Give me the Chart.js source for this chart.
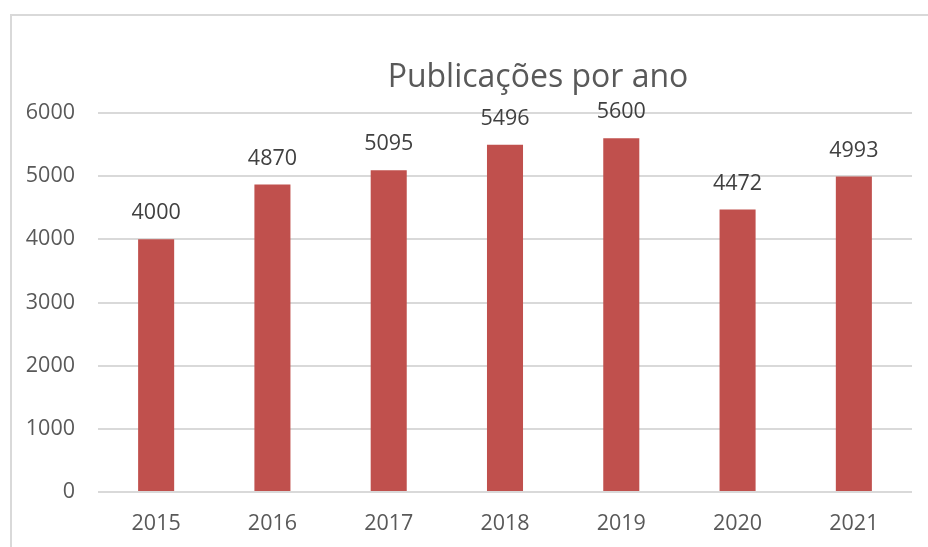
<!DOCTYPE html>
<html>
<head>
<meta charset="utf-8">
<script src="https://cdn.jsdelivr.net/npm/chart.js@4"></script>
<style>
  html, body { margin: 0; padding: 0; background: #fff; }
  #wrap { position: absolute; left: 0; top: 0; width: 928px; height: 547px; }
  #frame { position: absolute; left: 10px; top: 14px; width: 930px; height: 545px;
           border-left: 2px solid #d9d9d9; border-top: 2px solid #d9d9d9; }
</style>
</head>
<body>
<div id="frame"></div>
<div id="wrap"><canvas id="pubChart" width="928" height="547"></canvas></div>
<script>
const years = ['2015', '2016', '2017', '2018', '2019', '2020', '2021'];
const publications = [4000, 4870, 5095, 5496, 5600, 4472, 4993];
const yTicks = [0, 1000, 2000, 3000, 4000, 5000, 6000];
const chartTitle = 'Publicações por ano';

const FONT = "'Open Sans', sans-serif";

// title sits a bit right of centre in the original, so draw it here
const titleText = {
    id: 'titleText',
    afterDraw(chart) {
        const ctx = chart.ctx;
        ctx.save();
        ctx.font = '32px ' + FONT;
        ctx.fillStyle = '#595959';
        ctx.textAlign = 'center';
        ctx.textBaseline = 'middle';
        ctx.fillText(chartTitle, 538, 78);
        ctx.restore();
    }
};

// draw the value above each bar
const valueLabels = {
    id: 'valueLabels',
    afterDatasetsDraw(chart) {
        const ctx = chart.ctx;
        const meta = chart.getDatasetMeta(0);
        ctx.save();
        ctx.font = '21.5px ' + FONT;
        ctx.fillStyle = '#404040';
        ctx.textAlign = 'center';
        ctx.textBaseline = 'middle';
        meta.data.forEach((bar, i) => {
            ctx.fillText(String(publications[i]), bar.x, bar.y - 26);
        });
        ctx.restore();
    }
};

const config = {
    type: 'bar',
    data: {
        labels: years,
        datasets: [{
            label: 'Publicações',
            data: publications,
            backgroundColor: '#C0504D',
            borderWidth: 0,
            barPercentage: 0.31,
            categoryPercentage: 1.0
        }]
    },
    options: {
        responsive: false,
        animation: false,
        layout: { padding: { left: 0, right: 16, top: 113, bottom: 0 } },
        plugins: {
            legend: { display: false },
            tooltip: { enabled: false },
            title: { display: false }
        },
        scales: {
            x: {
                grid: { display: false, drawTicks: false },
                border: { display: false },
                ticks: { color: '#595959', font: { family: FONT, size: 21.5 }, padding: 19 },
                afterFit(scale) { scale.height = 55; }
            },
            y: {
                min: 0,
                max: 6000,
                afterBuildTicks(scale) { scale.ticks = yTicks.map(v => ({ value: v })); },
                grid: { color: '#d9d9d9', lineWidth: 2, drawTicks: false },
                border: { display: false },
                ticks: {
                    color: '#595959',
                    font: { family: FONT, size: 21.5 },
                    padding: 23,
                    callback: v => String(v)
                },
                afterFit(scale) { scale.width = 98; }
            }
        }
    },
    plugins: [valueLabels, titleText]
};

window.onload = function() {
    const ctx = document.getElementById('pubChart').getContext('2d');
    new Chart(ctx, config);
};
</script>
</body>
</html>
